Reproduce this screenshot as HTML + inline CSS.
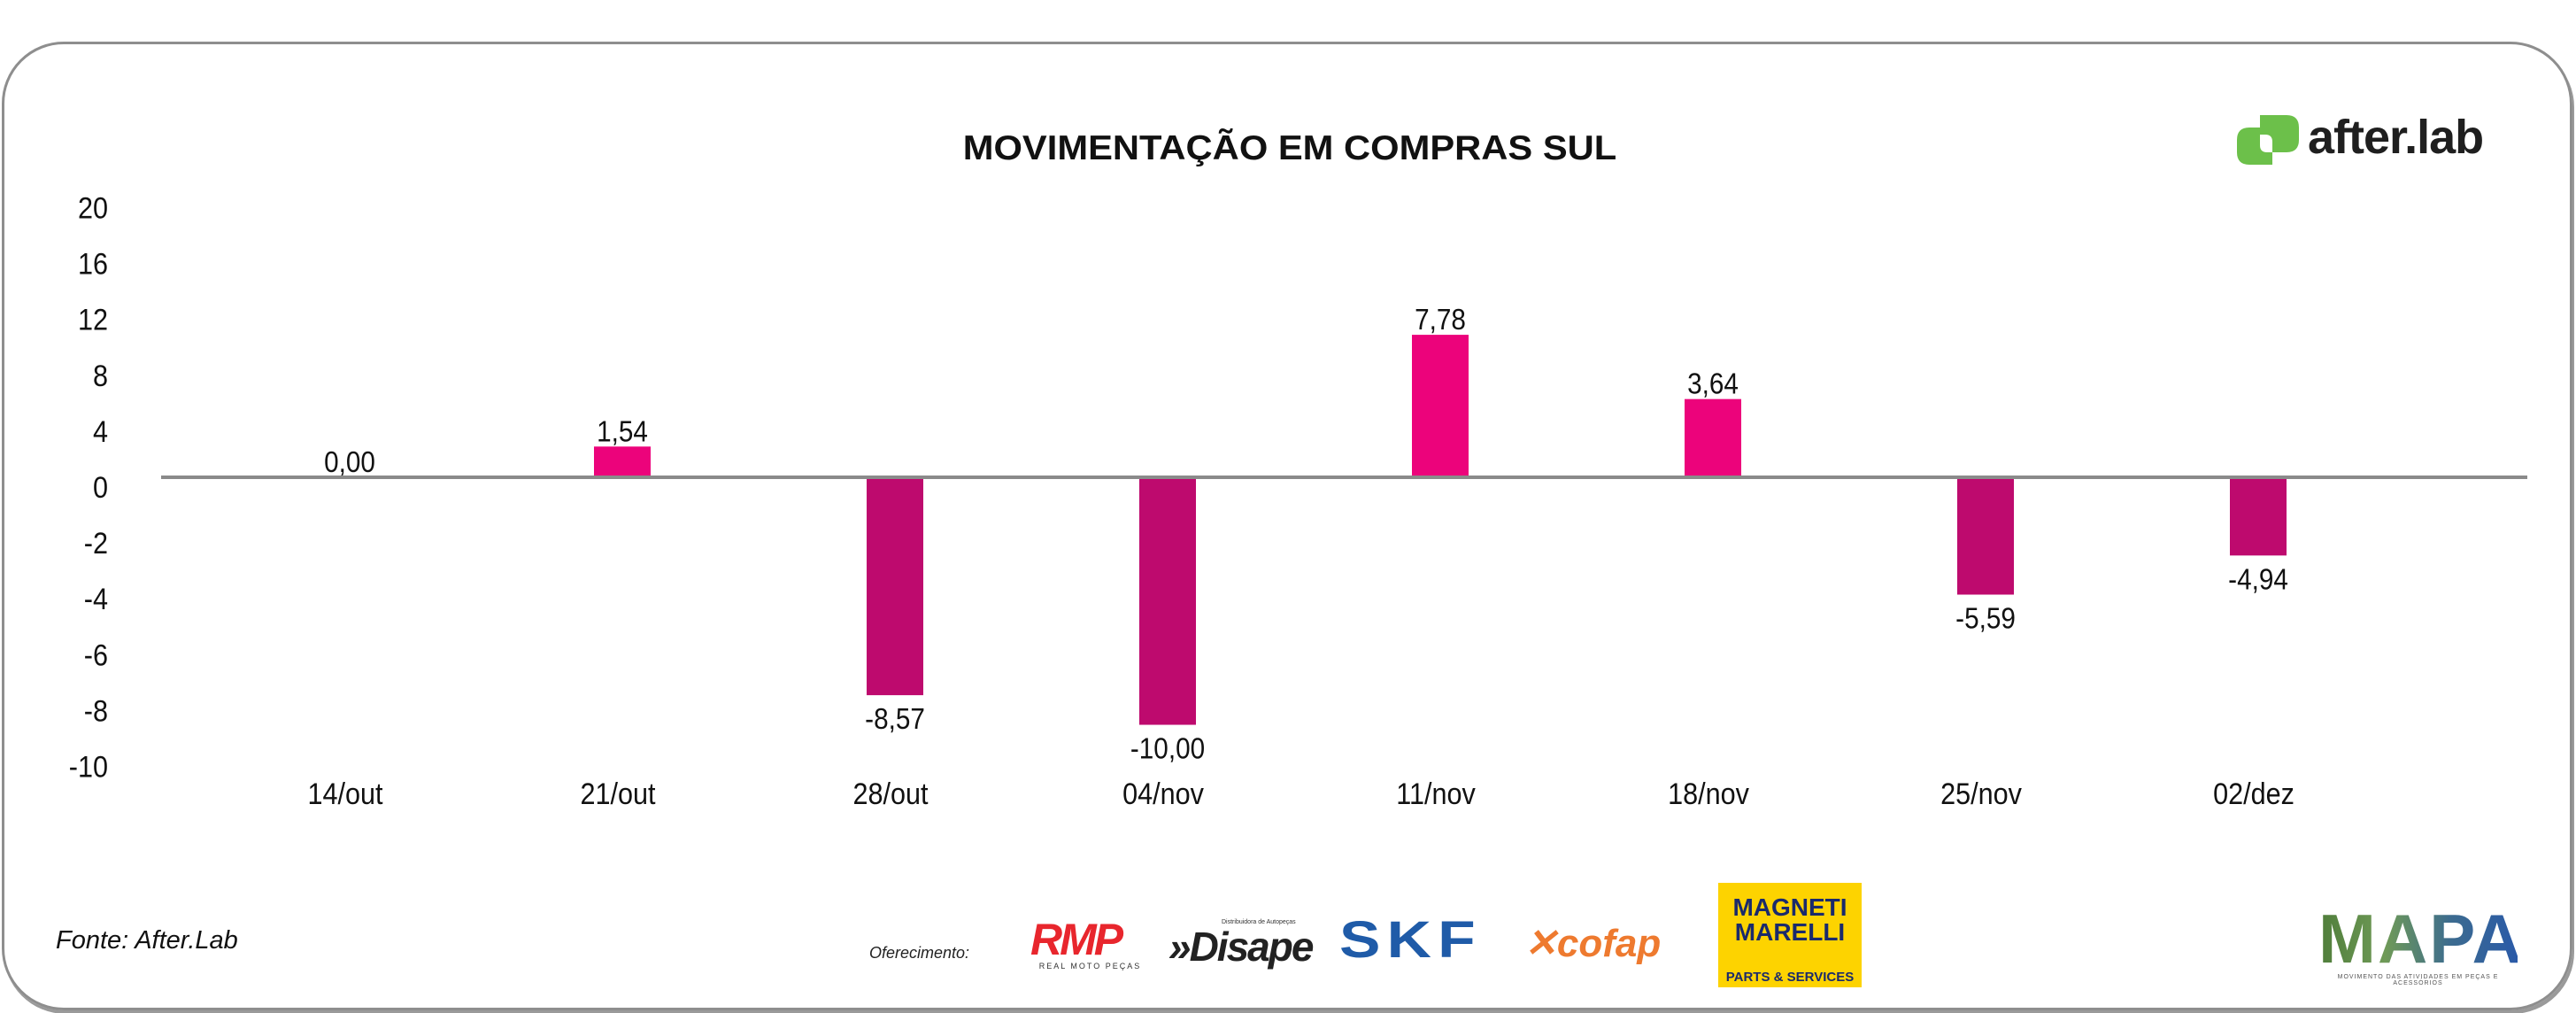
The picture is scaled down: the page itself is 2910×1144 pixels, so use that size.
<!DOCTYPE html>
<html><head><meta charset="utf-8">
<style>
html,body{margin:0;padding:0;background:#fff;}
body{width:2910px;height:1144px;position:relative;overflow:hidden;font-family:"Liberation Sans",sans-serif;}
.frame{position:absolute;left:2px;top:47px;width:2898px;height:1088px;border:3px solid #8e8e8e;border-radius:70px;box-shadow:2px 4px 0 #9a9a9a;}
</style></head><body>
<div class="frame"></div>

<div style="position:absolute;left:2527px;top:128px;width:300px;height:60px;">
  <svg width="75" height="56" style="position:absolute;left:0;top:2px">
    <path d="M26 0 H56 Q70 0 70 14 V28 Q70 42 56 42 H40 V30 Q40 22 32 22 H26 Z" fill="#6cc04a"/>
    <path d="M0 28 Q0 14 14 14 H26 V34 Q26 42 34 42 H40 V56 H14 Q0 56 0 42 Z" fill="#6cc04a"/>
  </svg>
  <div style="position:absolute;left:80px;top:-4px;font-weight:bold;font-size:54px;color:#1f1f1f;letter-spacing:-1px;">after.lab</div>
</div>

<svg id="chart" width="2910" height="1144" style="position:absolute;left:0;top:0">
  <text transform="translate(1457,180) scale(1.07,1)" text-anchor="middle" font-family="Liberation Sans, sans-serif" font-weight="bold" font-size="39" fill="#111">MOVIMENTAÇÃO EM COMPRAS SUL</text>
</svg>

<div style="position:absolute;left:63px;top:1046px;font-style:italic;font-size:29px;color:#111;">Fonte: After.Lab</div>
<div style="position:absolute;left:982px;top:1066px;font-style:italic;font-size:18px;color:#222;">Oferecimento:</div>

<div style="position:absolute;left:1164px;top:1036px;width:135px;height:62px;">
  <div style="font-weight:bold;font-style:italic;font-size:50px;color:#e8262d;letter-spacing:-3px;line-height:50px;">RMP</div>
  <div style="font-size:9px;color:#333;letter-spacing:2px;text-align:center;">REAL MOTO PEÇAS</div>
</div>
<div style="position:absolute;left:1320px;top:1030px;width:175px;height:70px;">
  <div style="font-size:7px;color:#333;position:absolute;left:60px;top:8px;">Distribuidora de Autopeças</div>
  <div style="position:absolute;left:0;top:12px;font-weight:bold;font-style:italic;font-size:46px;color:#222;letter-spacing:-2px;">»Disape</div>
</div>
<div style="position:absolute;left:1513px;top:1028px;font-weight:bold;font-size:58px;color:#1f5ba8;letter-spacing:6px;transform:scaleX(1.2);transform-origin:left;">SKF</div>
<div style="position:absolute;left:1722px;top:1040px;font-weight:bold;font-style:italic;font-size:44px;color:#ee7a2f;">✕cofap</div>
<div style="position:absolute;left:1941px;top:997px;width:162px;height:118px;background:#fdd300;text-align:center;color:#1a2a6c;font-weight:bold;">
  <div style="font-size:28px;line-height:28px;margin-top:14px;">MAGNETI<br>MARELLI</div>
  <div style="font-size:15px;margin-top:28px;">PARTS &amp; SERVICES</div>
</div>
<div style="position:absolute;left:2619px;top:1020px;width:225px;height:92px;text-align:center;">
  <div style="font-weight:bold;font-size:78px;line-height:80px;letter-spacing:2px;background:linear-gradient(90deg,#4f7d3a,#6f9a57,#3c6b8f,#2a5aa8);-webkit-background-clip:text;color:transparent;">MAPA</div>
  <div style="font-size:7px;color:#555;letter-spacing:1px;">MOVIMENTO DAS ATIVIDADES EM PEÇAS E ACESSÓRIOS</div>
</div>

<script>
const categories = ["14/out","21/out","28/out","04/nov","11/nov","18/nov","25/nov","02/dez"];
const barValues = [0, 2.2, -7.8, -8.86, 10.2, 5.6, -4.2, -2.8];
const valueLabels = ["0,00","1,54","-8,57","-10,00","7,78","3,64","-5,59","-4,94"];
const tickLabels = [20,16,12,8,4,0,-2,-4,-6,-8,-10];

const NS = "http://www.w3.org/2000/svg";
const svg = document.getElementById("chart");
const zeroY = 539, step = 63.1, xStart = 395, xStep = 308, barW = 64;
function yScale(v){ return v >= 0 ? zeroY - (v/4)*step : zeroY - (v/2)*step; }
function xScale(i){ return xStart + i*xStep; }
function mk(tag, attrs){ const e=document.createElementNS(NS,tag); for(const k in attrs) e.setAttribute(k,attrs[k]); svg.appendChild(e); return e; }
const FF = '"Liberation Sans",sans-serif';
function txt(x,y,anchor,size,sx){ return mk("text",{transform:"translate("+x+","+y+") scale("+sx+",1)","text-anchor":anchor,"font-size":size,"font-family":FF,fill:"#111"}); }

tickLabels.forEach(t=>{
  const el = txt(122, yScale(t)+23, "end", 34, 0.9);
  
  
  el.textContent = t;
});

categories.forEach((c,i)=>{
  const cx = xScale(i);
  const v = barValues[i];
  if (v !== 0) {
    const ya = yScale(v), top = Math.min(ya, zeroY), h = Math.abs(ya - zeroY);
    const r = mk("rect",{x:cx-barW/2,y:top,width:barW,height:h,fill: v>0 ? "#ec037b" : "#be0a6e"});
    
    
  }
  const ya = yScale(v);
  const ly = v >= 0 ? ya - 6 : ya + 38;
  const lt = txt(cx, ly, "middle", 33, 0.9);
  
  
  lt.textContent = valueLabels[i];
  const ct = txt(cx-5, 908, "middle", 34, 0.9);
  
  
  ct.textContent = c;
});

const zl = mk("line",{x1:182,x2:2855,y1:zeroY,y2:zeroY,stroke:"#8a8a8a","stroke-width":4});


</script>
</body></html>
